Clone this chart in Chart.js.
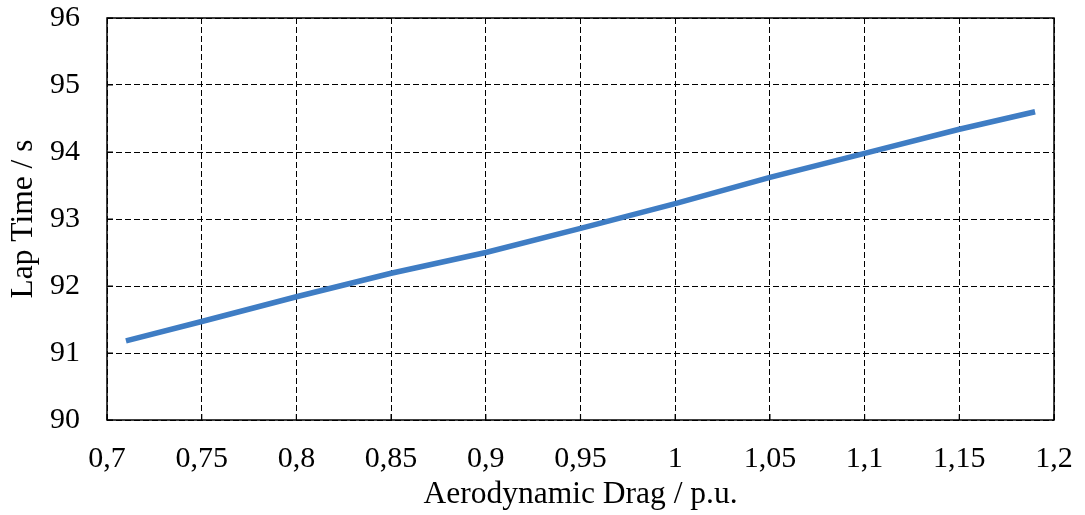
<!DOCTYPE html>
<html>
<head>
<meta charset="utf-8">
<script src="https://cdn.jsdelivr.net/npm/chart.js@4/dist/chart.umd.min.js"></script>
<style>
    body { margin: 0; background: #fff; }
    #wrap { width: 1085px; height: 515px; }
</style>
</head>
<body>
<div id="wrap"><canvas id="lapChart"></canvas></div>
<script>
// valores
const dragValues = [0.71, 0.75, 0.8, 0.85, 0.9, 0.95, 1.0, 1.05, 1.1, 1.15, 1.19];
const lapTimes = [91.18, 91.47, 91.84, 92.19, 92.50, 92.86, 93.23, 93.62, 93.98, 94.34, 94.60];
const xTicks = [0.7, 0.75, 0.8, 0.85, 0.9, 0.95, 1.0, 1.05, 1.1, 1.15, 1.2];
const yTicks = [90, 91, 92, 93, 94, 95, 96];

const serif = 'Liberation Serif, Times New Roman, serif';

// marco del área y marcas hacia adentro
const marcoPlugin = {
    id: 'marco',
    afterDraw(chart) {
        const { ctx, chartArea: a, scales } = chart;
        ctx.save();
        ctx.strokeStyle = '#000';
        ctx.lineWidth = 1.5;
        ctx.setLineDash([]);
        ctx.strokeRect(a.left, a.top, a.right - a.left, a.bottom - a.top);
        ctx.lineWidth = 1.2;
        ctx.beginPath();
        xTicks.forEach(v => {
            const px = scales.x.getPixelForValue(v);
            ctx.moveTo(px, a.bottom);
            ctx.lineTo(px, a.bottom - 6);
        });
        yTicks.forEach(v => {
            const py = scales.y.getPixelForValue(v);
            ctx.moveTo(a.left, py);
            ctx.lineTo(a.left + 6, py);
        });
        ctx.stroke();
        ctx.restore();
    }
};

function crearGraficoVueltas() {
    const ctx = document.getElementById('lapChart').getContext('2d');

    new Chart(ctx, {
        type: 'line',
        data: {
            datasets: [{
                label: 'Lap Time',
                data: dragValues.map((d, i) => ({ x: d, y: lapTimes[i] })),
                borderColor: '#3f7dc4',
                borderWidth: 5.5,
                pointRadius: 0,
                tension: 0,
                fill: false
            }]
        },
        options: {
            responsive: true,
            maintainAspectRatio: false,
            animation: false,
            layout: {
                padding: { left: 0, right: 31, top: 18, bottom: 0 }
            },
            plugins: {
                legend: { display: false },
                tooltip: { enabled: false }
            },
            scales: {
                x: {
                    type: 'linear',
                    min: 0.7,
                    max: 1.2,
                    afterBuildTicks: s => { s.ticks = xTicks.map(v => ({ value: v })); },
                    afterFit: s => {
                        s.height = 95;
                        s.paddingLeft = 0;
                        s.paddingRight = 0;
                    },
                    grid: { color: '#000', lineWidth: 1, drawTicks: false },
                    border: { display: false, dash: [6, 3] },
                    ticks: {
                        padding: 21,
                        color: '#000',
                        font: { family: serif, size: 30 },
                        maxRotation: 0,
                        callback: v => String(Number(v.toFixed(2))).replace('.', ',')
                    },
                    title: {
                        display: true,
                        text: 'Aerodynamic Drag / p.u.',
                        color: '#000',
                        font: { family: serif, size: 31.5 },
                        padding: { top: 0, bottom: 1 }
                    }
                },
                y: {
                    min: 90,
                    max: 96,
                    afterBuildTicks: s => { s.ticks = yTicks.map(v => ({ value: v })); },
                    afterFit: s => {
                        s.width = 107;
                        s.paddingTop = 0;
                        s.paddingBottom = 0;
                    },
                    grid: { color: '#000', lineWidth: 1, drawTicks: false },
                    border: { display: false, dash: [6, 3] },
                    ticks: {
                        padding: 27,
                        color: '#000',
                        font: { family: serif, size: 30 }
                    },
                    title: {
                        display: true,
                        text: 'Lap Time / s',
                        color: '#000',
                        font: { family: serif, size: 31.5 },
                        padding: { top: 5, bottom: 0 }
                    }
                }
            }
        },
        plugins: [marcoPlugin]
    });
}

crearGraficoVueltas();
</script>
</body>
</html>
